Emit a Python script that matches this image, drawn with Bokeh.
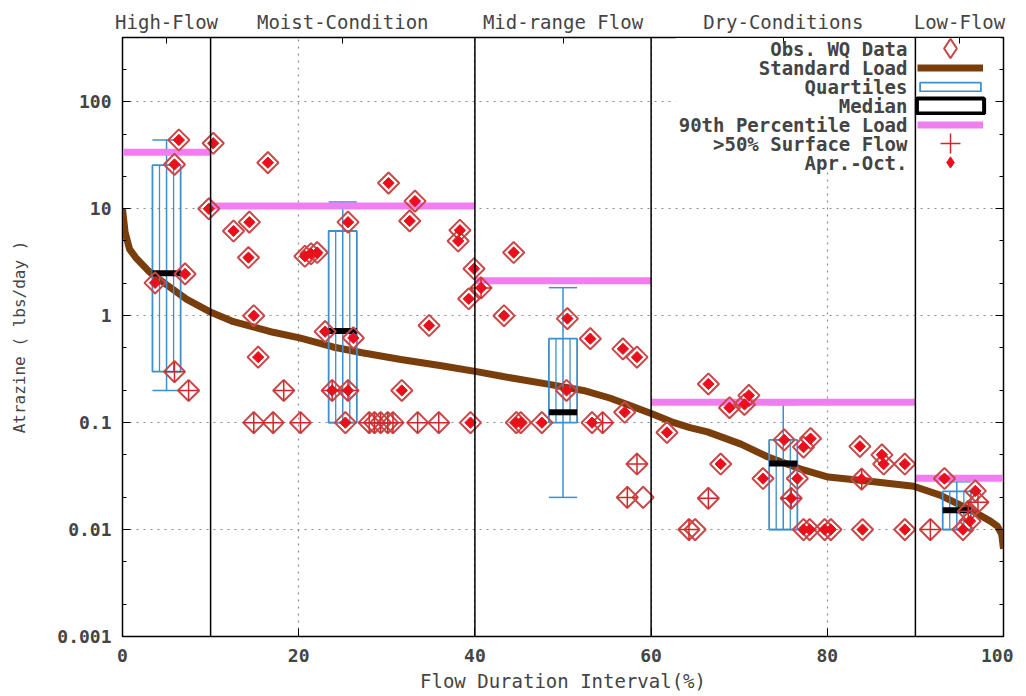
import numpy as np
from bokeh.plotting import figure
from bokeh.models import (FixedTicker, LinearAxis, LogAxis, Span, Legend, LegendItem, Label,
                          BoxAnnotation)
from bokeh.embed import file_html
from bokeh.resources import INLINE

FONT = "DejaVu Sans Mono"

# ---------------- data ----------------
zone_bounds = [10, 40, 60, 90]
zone_centers = [5, 25, 50, 75, 95]
zone_names = ["High-Flow", "Moist-Condition", "Mid-range Flow", "Dry-Conditions", "Low-Flow"]

x_ticks = [0, 20, 40, 60, 80, 100]
y_ticks = [0.001, 0.01, 0.1, 1, 10, 100]
y_tick_labels = ["0.001", "0.01", "0.1", "1", "10", "100"]
y_minor_ticks = [0.002, 0.005, 0.02, 0.05, 0.2, 0.5, 2, 5, 20, 50, 200]

legend_labels = ["Obs. WQ Data", "Standard Load", "Quartiles", "Median",
                 "90th Percentile Load", ">50% Surface Flow", "Apr.-Oct."]

# Standard load (flow duration curve)
std_x = [0, 0.3, 0.8, 1.5, 3, 5, 7.3, 10.1, 12.6, 14.5, 17.1, 20.1, 23.9, 27.2, 31.6, 36.2,
         40.2, 43.2, 48.6, 52.3, 55.3, 57.3, 60.3, 62.6, 64.4, 66.4, 70.2, 73.2, 76.9,
         80.1, 85.3, 89.8, 92.8, 96.5, 98.5, 99.3, 99.8, 100]
std_y = [10, 6.0, 4.2, 3.5, 2.6, 1.95, 1.42, 1.07, 0.88, 0.80, 0.70, 0.62, 0.51, 0.45,
         0.39, 0.34, 0.30, 0.27, 0.227, 0.20, 0.17, 0.148, 0.119, 0.10, 0.09, 0.082,
         0.063, 0.048, 0.037, 0.031, 0.028, 0.0254, 0.021, 0.0149, 0.0120, 0.0108,
         0.0090, 0.0066]

# 90th percentile load per zone
p90_start = [0, 10, 40, 60, 90]
p90_end = [10, 40, 60, 90, 100]
p90_val = [33.8, 10.6, 2.12, 0.155, 0.0302]

# Quartile boxes
box_x = [5, 25, 50, 75, 94.7]
box_q1 = [0.30, 0.10, 0.10, 0.010, 0.010]
box_q3 = [25.6, 6.2, 0.61, 0.069, 0.0228]
box_med = [2.5, 0.72, 0.125, 0.0414, 0.0152]
box_lo = [0.20, 0.10, 0.020, 0.010, 0.010]
box_hi = [44, 11.6, 1.83, 0.148, 0.028]
box_half = 1.6
box_fill_offsets = [-0.8, 0.8]

# Observed WQ data
obs_x = [6.4, 10.3, 5.9, 16.5, 9.8, 12.6, 14.4, 14.3, 20.7, 21.4, 22.1, 7.1, 3.7, 14.9,
         15.4, 5.9, 7.5, 18.3, 23.0, 26.2, 23.8, 25.6, 25.6, 30.2, 33.2, 32.6, 38.3, 38.1,
         39.9, 40.7, 39.3, 34.8, 31.7,
         14.9, 17.1, 20.2, 25.3, 28.0, 28.6, 29.3, 30.1, 30.7, 33.5, 35.9, 39.5,
         44.4, 43.3, 50.5, 53.1, 56.8, 58.4, 50.4, 57.0, 61.8, 44.7, 45.2, 47.6, 53.3,
         54.5, 58.4, 57.3, 59.1,
         66.5, 71.1, 70.6, 68.9, 67.9, 72.7, 66.5, 64.3, 65.0, 75.1, 78.1, 77.3, 76.6,
         75.9, 77.3, 78.0, 79.7, 80.4, 83.7, 86.2, 86.4, 88.8, 83.9, 84.0, 88.8, 91.7,
         93.3, 96.8, 97.1, 96.0, 96.2, 95.4]
obs_y = [44, 41, 26, 27, 10, 6.2, 7.5, 3.5, 3.6, 3.8, 3.9, 2.46, 2.03, 1.0,
         0.41, 0.30, 0.20, 0.20, 0.71, 0.62, 0.20, 0.20, 7.5, 17.4, 11.8, 7.7, 6.3, 5.0,
         2.75, 1.82, 1.44, 0.81, 0.20,
         0.1, 0.1, 0.1, 0.1, 0.1, 0.1, 0.1, 0.1, 0.1, 0.1, 0.1, 0.1,
         3.9, 1.0, 0.94, 0.61, 0.49, 0.41, 0.20, 0.125, 0.081, 0.1, 0.1, 0.1, 0.1,
         0.1, 0.041, 0.020, 0.020,
         0.23, 0.18, 0.148, 0.138, 0.041, 0.030, 0.0196, 0.010, 0.010, 0.069, 0.071,
         0.059, 0.030, 0.0196, 0.010, 0.010, 0.010, 0.010, 0.060, 0.050, 0.041, 0.041,
         0.0296, 0.010, 0.010, 0.010, 0.030, 0.023, 0.018, 0.0148, 0.012, 0.010]
# 1 = sampled Apr.-Oct.
obs_aproct = [1, 1, 1, 1, 1, 1, 1, 1, 1, 1, 1, 1, 1, 1,
              1, 0, 0, 0, 1, 1, 1, 1, 1, 1, 1, 1, 1, 1,
              1, 1, 1, 1, 1,
              0, 0, 0, 1, 0, 0, 0, 0, 0, 0, 0, 1,
              1, 1, 1, 1, 1, 1, 1, 1, 1, 1, 1, 1, 1,
              0, 0, 0, 0,
              1, 1, 1, 1, 1, 1, 0, 0, 0, 1, 1,
              1, 1, 1, 1, 1, 1, 1, 1, 1, 1, 1,
              1, 1, 1, 0, 1, 1, 0, 0, 1, 1]
# 1 = >50% surface flow
obs_surface = [0, 0, 0, 0, 0, 0, 0, 0, 0, 0, 0, 0, 0, 0,
               0, 1, 1, 1, 0, 0, 1, 1, 0, 0, 0, 0, 0, 0,
               0, 1, 0, 0, 0,
               1, 1, 1, 0, 1, 1, 1, 1, 1, 1, 1, 0,
               0, 0, 0, 0, 0, 0, 0, 0, 0, 0, 0, 0, 0,
               1, 1, 1, 0,
               0, 0, 0, 0, 0, 0, 1, 1, 0, 0, 0,
               0, 0, 1, 0, 0, 0, 0, 0, 0, 0, 0,
               1, 0, 0, 1, 0, 0, 1, 1, 0, 0]

# ---------------- figure ----------------
p = figure(width=1013, height=694, x_range=(0, 100), y_range=(0.001, 400),
           y_axis_type="log", output_backend="svg", toolbar_location=None,
           min_border_left=122, min_border_right=10, min_border_top=37,
           min_border_bottom=57)
p.outline_line_color = "black"
p.outline_line_width = 1.5
p.background_fill_color = "white"

# grid
p.xgrid.ticker = FixedTicker(ticks=x_ticks)
p.ygrid.ticker = FixedTicker(ticks=y_ticks)
for g in (p.xgrid, p.ygrid):
    g.grid_line_color = "#8c8c8c"
    g.grid_line_dash = "2 5"
    g.grid_line_width = 1.2

# white backing of the key (covers grid lines, as in the original)
p.add_layout(BoxAnnotation(left=553, right=878, top=599, bottom=465,
                           left_units="screen", right_units="screen",
                           top_units="screen", bottom_units="screen",
                           fill_color="white", fill_alpha=1, line_alpha=0,
                           level="underlay"))

# bottom axis
xa = p.xaxis[0]
xa.ticker = FixedTicker(ticks=x_ticks)
xa.major_tick_in = 8
xa.major_tick_out = 0
xa.minor_tick_in = 0
xa.minor_tick_out = 0
xa.axis_line_color = "black"
xa.major_label_text_font = FONT
xa.major_label_text_font_style = "bold"
xa.major_label_text_font_size = "18px"
xa.major_label_standoff = 12
xa.axis_label = "Flow Duration Interval(%)"
xa.axis_label_text_font = FONT
xa.axis_label_text_font_style = "normal"
xa.axis_label_text_font_size = "19px"
xa.axis_label_standoff = 5

# left axis
ya = p.yaxis[0]
ya.ticker = FixedTicker(ticks=y_ticks, minor_ticks=y_minor_ticks)
ya.major_label_overrides = {v: l for v, l in zip(y_ticks, y_tick_labels)}
ya.major_tick_in = 8
ya.major_tick_out = 0
ya.minor_tick_in = 4
ya.minor_tick_out = 0
ya.axis_line_color = "black"
ya.major_label_text_font = FONT
ya.major_label_text_font_style = "bold"
ya.major_label_text_font_size = "18px"
ya.major_label_standoff = 11
ya.axis_label = "Atrazine ( lbs/day )"
ya.axis_label_text_font = FONT
ya.axis_label_text_font_style = "normal"
ya.axis_label_text_font_size = "16px"
ya.axis_label_standoff = 25

# top axis with flow zone names
top = LinearAxis(ticker=FixedTicker(ticks=zone_centers),
                 major_label_overrides={v: l for v, l in zip(zone_centers, zone_names)},
                 major_tick_in=6, major_tick_out=0, minor_tick_in=0, minor_tick_out=0,
                 axis_line_color="black", major_label_text_font=FONT,
                 major_label_text_font_size="19px", major_label_standoff=5)
p.add_layout(top, "above")

# right axis (mirror ticks)
right = LogAxis(ticker=FixedTicker(ticks=y_ticks, minor_ticks=y_minor_ticks),
                major_tick_in=8, major_tick_out=0, minor_tick_in=4, minor_tick_out=0,
                major_label_text_alpha=0, major_label_text_font_size="8px",
                major_label_standoff=0, axis_line_color="black")
p.add_layout(right, "right")

# zone boundaries
for b in zone_bounds:
    p.add_layout(Span(location=b, dimension="height", line_color="black", line_width=1.5))

BLUE = "#3d8fcd"
RED_LINE = "#c84848"
RED_FILL = "#e8101a"
# standard load curve
r_std = p.line(std_x, std_y, line_color="#7a3e0c", line_width=7)

# quartile boxes (outline + inner vertical fill lines)
bl = [c - box_half for c in box_x]
br = [c + box_half for c in box_x]
r_box = p.quad(left=bl, right=br, bottom=box_q1, top=box_q3, fill_color="white",
               fill_alpha=0, line_color=BLUE, line_width=1.8)
for off in box_fill_offsets:
    p.segment(x0=[c + off for c in box_x], y0=box_q1, x1=[c + off for c in box_x],
              y1=box_q3, line_color=BLUE, line_width=1.3)
# whiskers
p.segment(x0=box_x, y0=box_lo, x1=box_x, y1=box_hi, line_color=BLUE, line_width=1.5)
p.segment(x0=bl, y0=box_hi, x1=br, y1=box_hi, line_color=BLUE, line_width=1.5)
p.segment(x0=bl, y0=box_lo, x1=br, y1=box_lo, line_color=BLUE, line_width=1.5)
# medians
r_med = p.segment(x0=bl, y0=box_med, x1=br, y1=box_med, line_color="black", line_width=6)

# 90th percentile load
r_p90 = p.segment(x0=p90_start, y0=p90_val, x1=p90_end, y1=p90_val,
                  line_color="#f07ef0", line_width=7)

# observations
ox = np.array(obs_x)
oy = np.array(obs_y)
ma = np.array(obs_aproct) == 1
ms = np.array(obs_surface) == 1

r_obs = p.scatter(ox, oy, marker="square", angle=0.785398, size=15, fill_color=None,
                  line_color=RED_LINE, line_width=2)
r_surf = p.scatter(ox[ms], oy[ms], marker="cross", size=20, line_color="#d02828",
                   line_width=1.5)
r_apr = p.scatter(ox[ma], oy[ma], marker="square", angle=0.785398, size=8,
                  fill_color=RED_FILL, line_color=RED_FILL, line_width=1)

# key-only (hidden) stand-ins so the key samples look like the original's
k_obs = p.scatter(ox, oy, marker="diamond", fill_color=None, line_color=RED_LINE,
                  line_width=2, visible=False)
k_apr = p.scatter(ox[ma], oy[ma], marker="diamond", fill_color=RED_FILL,
                  line_color=RED_FILL, visible=False)
k_med = p.quad(left=bl, right=br, bottom=box_med, top=box_med, fill_color="white",
               line_color="black", line_width=4, visible=False)

# gnuplot-style key: right-aligned text, sample to its right (one row per entry)
ROW = 19
key_rows = [(k_obs, 66, 48), (r_std, 66, ROW), (r_box, 76, 11), (k_med, 84, 19),
            (r_p90, 66, ROW), (r_surf, 66, 50), (k_apr, 66, 28)]
KEY_CX = 828     # sample centre, px from frame left
KEY_TEXT_X = 785  # text right edge, px from frame left
KEY_TOP = 588     # first row centre, px from frame bottom
for i, (rend, gw, gh) in enumerate(key_rows):
    cy = KEY_TOP - ROW * i
    lg = Legend(items=[LegendItem(label=" ", renderers=[rend])],
                location=(KEY_CX - gw / 2, cy - gh / 2))
    lg.label_text_font_size = "1px"
    lg.label_width = 0
    lg.label_standoff = 0
    lg.label_height = gh
    lg.glyph_height = gh
    lg.glyph_width = gw
    lg.spacing = 0
    lg.padding = 0
    lg.margin = 0
    lg.border_line_color = None
    lg.background_fill_alpha = 0
    p.add_layout(lg)
    p.add_layout(Label(x=KEY_TEXT_X, y=cy, x_units="screen", y_units="screen",
                       text=legend_labels[i], text_align="right", text_baseline="middle",
                       text_font=FONT, text_font_style="bold", text_font_size="19px"))

open("out.html", "w").write(file_html(p, INLINE))
